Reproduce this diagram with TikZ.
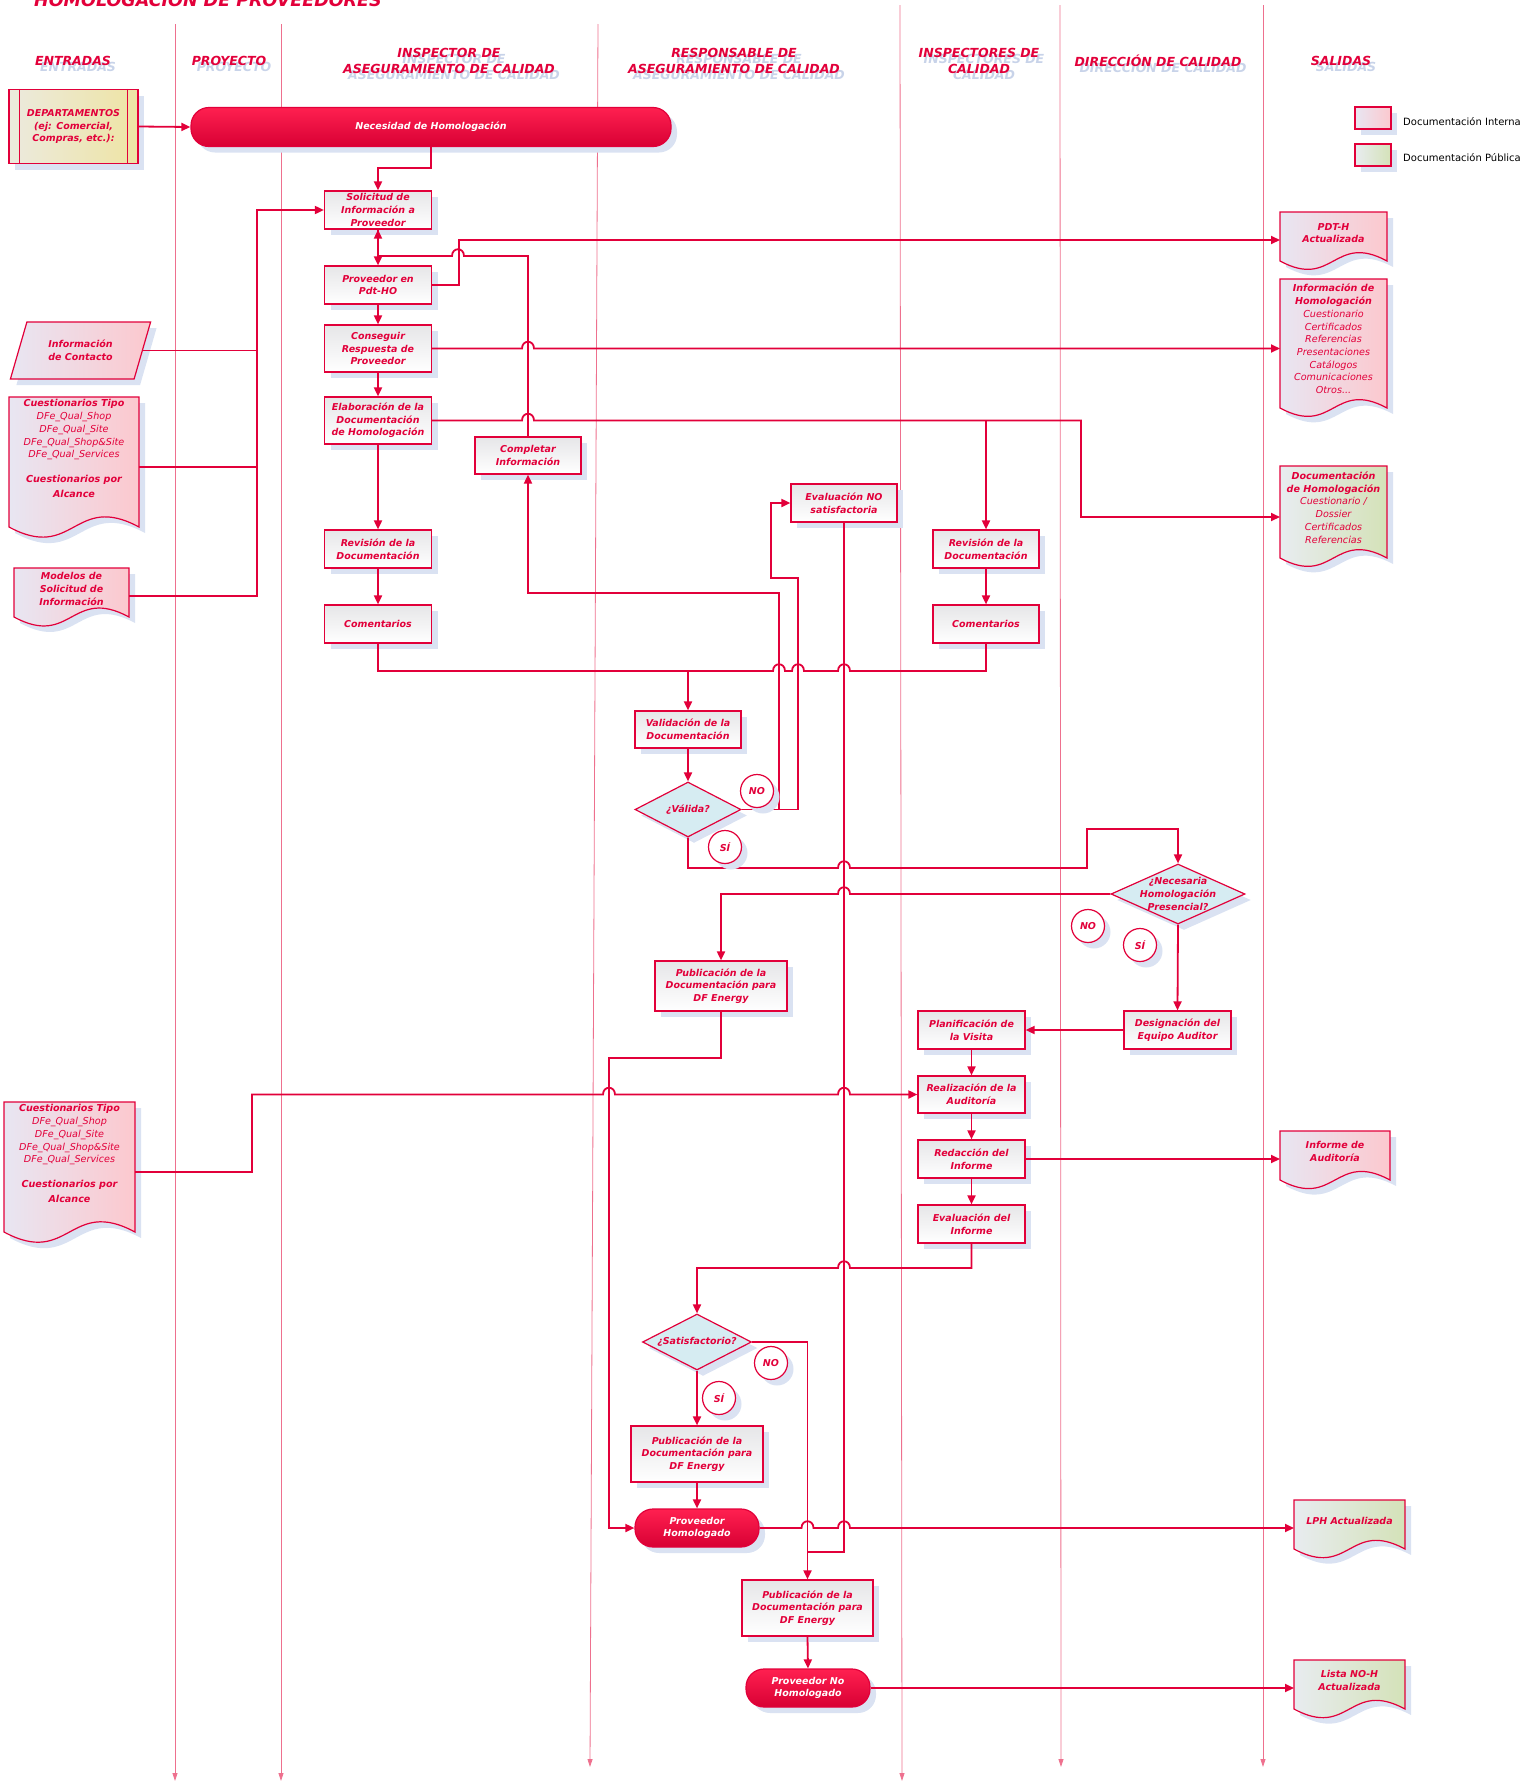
\documentclass[tikz,border=0pt]{standalone}
\usepackage{fontspec}
\setmainfont{DejaVu Sans}
\usetikzlibrary{arrows.meta,shapes.geometric,shadows,calc}

% colours
\definecolor{crimson}{RGB}{226,0,58}
\definecolor{lanepink}{RGB}{238,112,142}
\definecolor{shadowblue}{RGB}{218,226,242}
\definecolor{headshadow}{RGB}{200,211,233}
\definecolor{docpinkL}{RGB}{232,230,242}
\definecolor{docpinkR}{RGB}{252,200,206}
\definecolor{docgreenL}{RGB}{232,236,240}
\definecolor{docgreenR}{RGB}{212,226,184}
\definecolor{deptL}{RGB}{236,234,222}
\definecolor{deptR}{RGB}{238,228,164}
\definecolor{diafill}{RGB}{214,236,242}
\definecolor{pillT}{RGB}{255,32,80}
\definecolor{pillB}{RGB}{216,0,52}
\definecolor{boxgray}{RGB}{230,230,232}

\newcommand{\boxfont}{\fontsize{9.5}{12.6}\selectfont\bfseries\itshape}
\newcommand{\docfont}{\fontsize{9.6}{12.7}\selectfont\itshape}
\newcommand{\headfont}{\fontsize{12.5}{16}\selectfont\bfseries\itshape}

% hop over a vertical line, going right / going left
\newcommand{\hopr}[2]{-- ({#1-6},#2) .. controls +(0,-9) and +(0,-9) .. ({#1+6},#2)}
\newcommand{\hopl}[2]{-- ({#1+6},#2) .. controls +(0,-9) and +(0,-9) .. ({#1-6},#2)}

% document shape with wavy bottom round an empty node
\newcommand{\docu}[3]{%
  \fill[shadowblue] let \p1=([shift={(6,6)}]#1.north west), \p2=([shift={(6,6)}]#1.south east) in
    (\x1,\y1) -- (\x2,\y1) -- (\x2,\y2)
    .. controls ({0.5*\x1+0.5*\x2},{\y2+0.27*(\x2-\x1)}) and ({0.5*\x1+0.5*\x2},{\y2-0.27*(\x2-\x1)}) .. (\x1,\y2) -- cycle;
  \path[draw=crimson, line width=1.2pt, left color=#2, right color=#3] let \p1=(#1.north west), \p2=(#1.south east) in
    (\x1,\y1) -- (\x2,\y1) -- (\x2,\y2)
    .. controls ({0.5*\x1+0.5*\x2},{\y2+0.27*(\x2-\x1)}) and ({0.5*\x1+0.5*\x2},{\y2-0.27*(\x2-\x1)}) .. (\x1,\y2) -- cycle;
}

\tikzset{
  lane/.style={draw=lanepink, line width=0.8pt, -{Triangle[length=8pt,width=5pt]}},
  lanehead/.style={font=\headfont, text=crimson, align=center, inner sep=0pt},
  headshade/.style={font=\headfont, text=headshadow, align=center, inner sep=0pt},
  shade6/.style={drop shadow={shadow xshift=6pt, shadow yshift=-6pt, fill=shadowblue, opacity=1}},
  proc/.style={shade6, draw=crimson, line width=1.2pt, top color=boxgray, bottom color=white,
    minimum width=107, minimum height=38, inner sep=0pt, align=center, font=\boxfont, text=crimson},
  pill/.style={shade6, draw=crimson, line width=1.2pt, rounded corners=18pt, top color=pillT, bottom color=pillB,
    minimum width=124, minimum height=38, inner sep=0pt, align=center, font=\boxfont, text=white},
  decision/.style={shade6, diamond, aspect=2, draw=crimson, line width=1.2pt, fill=diafill,
    inner sep=0pt, align=center, font=\boxfont, text=crimson},
  answer/.style={shade6, circle, draw=crimson, line width=1.2pt, fill=white, minimum size=33,
    inner sep=0pt, font=\boxfont, text=crimson},
  docbox/.style={inner sep=0pt, outer sep=0pt},
  doctext/.style={font=\docfont, text=crimson, align=center, inner sep=0pt},
  boxtext/.style={font=\boxfont, text=crimson, align=center, inner sep=0pt},
  flow/.style={draw=crimson, line width=1.8pt, -{Triangle[length=9pt,width=8pt]}},
  link/.style={draw=crimson, line width=1.8pt},
}

\begin{document}
\begin{tikzpicture}[x=1pt, y=-1pt]
\useasboundingbox (0,0) rectangle (1525,1783);

% Title
\node[font=\fontsize{17.5}{20}\selectfont\bfseries\itshape, text=crimson, anchor=base west, inner sep=0pt] (title) at (34,6) {HOMOLOGACIÓN DE PROVEEDORES};

% Lane lines
\draw[lane] (175,24) -- (175,1781);
\draw[lane] (281,24) -- (281,1781);
\draw[lane] (598,24) -- (590,1767);
\draw[lane] (900,5) -- (902,1781);
\draw[lane] (1060,5) -- (1061,1767);
\draw[lane] (1263,5) -- (1263,1767);

% Lane headers
\node[headshade] at (78,67) {ENTRADAS};
\node[lanehead] (hentr) at (73,61) {ENTRADAS};
\node[headshade] at (234,67) {PROYECTO};
\node[lanehead] (hproy) at (229,61) {PROYECTO};
\node[headshade] at (454,67) {INSPECTOR DE\\ASEGURAMIENTO DE CALIDAD};
\node[lanehead] (hinsp) at (449,61) {INSPECTOR DE\\ASEGURAMIENTO DE CALIDAD};
\node[headshade] at (739,67) {RESPONSABLE DE\\ASEGURAMIENTO DE CALIDAD};
\node[lanehead] (hresp) at (734,61) {RESPONSABLE DE\\ASEGURAMIENTO DE CALIDAD};
\node[headshade] at (984,67) {INSPECTORES DE\\CALIDAD};
\node[lanehead] (hinsc) at (979,61) {INSPECTORES DE\\CALIDAD};
\node[headshade] at (1163,67) {DIRECCIÓN DE CALIDAD};
\node[lanehead] (hdire) at (1158,61) {DIRECCIÓN DE CALIDAD};
\node[headshade] at (1346,67) {SALIDAS};
\node[lanehead] (hsali) at (1341,61) {SALIDAS};

% Legend
\node[shade6, draw=crimson, line width=1.2pt, left color=docpinkL, right color=docpinkR, minimum width=36, minimum height=22, inner sep=0pt] (leg1) at (1373,118) {};
\node[font=\fontsize{10}{12}\selectfont, anchor=west, inner sep=0pt] (leg1t) at (1403,122) {Documentación Interna};
\node[shade6, draw=crimson, line width=1.2pt, left color=docgreenL, right color=docgreenR, minimum width=36, minimum height=22, inner sep=0pt] (leg2) at (1373,155) {};
\node[font=\fontsize{10}{12}\selectfont, anchor=west, inner sep=0pt] (leg2t) at (1403,158) {Documentación Pública};

% Entradas
\node[shade6, draw=crimson, line width=1.2pt, left color=deptL, right color=deptR, minimum width=129, minimum height=74, inner sep=0pt, align=center, font=\boxfont, text=crimson] (dept) at (73.5,126.5) {DEPARTAMENTOS\\(ej: Comercial,\\Compras, etc.):};
\draw[crimson, line width=1.2pt] ([xshift=11pt]dept.north west) -- ([xshift=11pt]dept.south west);
\draw[crimson, line width=1.2pt] ([xshift=-11pt]dept.north east) -- ([xshift=-11pt]dept.south east);

\node[shade6, trapezium, trapezium left angle=64, trapezium right angle=116, trapezium stretches=true, draw=crimson, line width=1.2pt, left color=docpinkL, right color=docpinkR, minimum width=141, minimum height=57, inner sep=0pt, align=center, font=\boxfont, text=crimson] (contacto) at (80.5,350.5) {Información\\de Contacto};

\node[docbox, minimum width=130, minimum height=130] (cuest1) at (74,462) {};
\docu{cuest1}{docpinkL}{docpinkR}
\node[doctext] (cuest1t) at (74,448.5) {\textbf{Cuestionarios Tipo}\\DFe\_Qual\_Shop\\DFe\_Qual\_Site\\DFe\_Qual\_Shop\&Site\\DFe\_Qual\_Services\\[12pt]\textbf{Cuestionarios por}\\[2pt]\textbf{Alcance}};

\node[docbox, minimum width=115, minimum height=49] (modelos) at (71.5,592.5) {};
\docu{modelos}{docpinkL}{docpinkR}
\node[boxtext] (modelost) at (71.5,589) {Modelos de\\Solicitud de\\Información};

\node[docbox, minimum width=131, minimum height=130] (cuest2) at (69.5,1167) {};
\docu{cuest2}{docpinkL}{docpinkR}
\node[doctext] (cuest2t) at (69.5,1153.5) {\textbf{Cuestionarios Tipo}\\DFe\_Qual\_Shop\\DFe\_Qual\_Site\\DFe\_Qual\_Shop\&Site\\DFe\_Qual\_Services\\[12pt]\textbf{Cuestionarios por}\\[2pt]\textbf{Alcance}};

% Salidas
\node[docbox, minimum width=107, minimum height=49] (pdth) at (1333.5,236.5) {};
\docu{pdth}{docpinkL}{docpinkR}
\node[boxtext] (pdtht) at (1333.5,233) {PDT-H\\Actualizada};

\node[docbox, minimum width=107, minimum height=129] (infoh) at (1333.5,343.5) {};
\docu{infoh}{docpinkL}{docpinkR}
\node[doctext] (infoht) at (1333.5,339) {\textbf{Información de}\\\textbf{Homologación}\\Cuestionario\\Certificados\\Referencias\\Presentaciones\\Catálogos\\Comunicaciones\\Otros...};

\node[docbox, minimum width=107, minimum height=92] (doch) at (1333.5,512) {};
\docu{doch}{docgreenL}{docgreenR}
\node[doctext] (docht) at (1333.5,507.5) {\textbf{Documentación}\\\textbf{de Homologación}\\Cuestionario /\\Dossier\\Certificados\\Referencias};

\node[docbox, minimum width=110, minimum height=49] (infaud) at (1335,1155.5) {};
\docu{infaud}{docpinkL}{docpinkR}
\node[boxtext] (infaudt) at (1335,1151.5) {Informe de\\Auditoría};

\node[docbox, minimum width=111, minimum height=49] (lph) at (1349.5,1524.5) {};
\docu{lph}{docgreenL}{docgreenR}
\node[boxtext] (lpht) at (1349.5,1521) {LPH Actualizada};

\node[docbox, minimum width=111, minimum height=49] (noh) at (1349.5,1684.5) {};
\docu{noh}{docgreenL}{docgreenR}
\node[boxtext] (noht) at (1349.5,1680.5) {Lista NO-H\\Actualizada};

% Process
\node[pill, minimum width=480, minimum height=39] (nec) at (431,127) {Necesidad de Homologación};
\node[proc] (soli) at (378,210) {Solicitud de\\Información a\\Proveedor};
\node[proc] (pdt) at (378,285) {Proveedor en\\Pdt-HO};
\node[proc, minimum height=47] (cons) at (378,348.5) {Conseguir\\Respuesta de\\Proveedor};
\node[proc, minimum height=47] (elab) at (378,420.5) {Elaboración de la\\Documentación\\de Homologación};
\node[proc, minimum width=106, minimum height=37] (comp) at (528,455.5) {Completar\\Información};
\node[proc] (rev1) at (378,549) {Revisión de la\\Documentación};
\node[proc] (com1) at (378,624) {Comentarios};
\node[proc, minimum width=106] (evno) at (844,503) {Evaluación NO\\satisfactoria};
\node[proc, minimum width=106] (rev2) at (986,549) {Revisión de la\\Documentación};
\node[proc, minimum width=106] (com2) at (986,624) {Comentarios};
\node[proc, minimum width=106, minimum height=37] (vali) at (688,729.5) {Validación de la\\Documentación};
\node[decision, minimum width=106, minimum height=55] (valid) at (688,809.5) {¿Válida?};
\node[decision, minimum width=134, minimum height=60] (nece) at (1178,894) {};
\node[boxtext] (necet) at (1178,894) {¿Necesaria\\Homologación\\Presencial?};
\node[proc, minimum width=132, minimum height=50] (pub1) at (721,986) {Publicación de la\\Documentación para\\DF Energy};
\node[proc] (desi) at (1177.5,1030) {Designación del\\Equipo Auditor};
\node[proc] (plan) at (971.5,1030) {Planificación de\\la Visita};
\node[proc, minimum height=37] (real) at (971.5,1094.5) {Realización de la\\Auditoría};
\node[proc] (reda) at (971.5,1159) {Redacción del\\Informe};
\node[proc] (evin) at (971.5,1224) {Evaluación del\\Informe};
\node[decision, minimum width=109, minimum height=56] (sati) at (697,1342) {¿Satisfactorio?};
\node[proc, minimum width=132, minimum height=56] (pub2) at (697,1454) {Publicación de la\\Documentación para\\DF Energy};
\node[pill] (homo) at (697,1528) {Proveedor\\Homologado};
\node[proc, minimum width=131, minimum height=56] (pub3) at (807.5,1608) {Publicación de la\\Documentación para\\DF Energy};
\node[pill] (nohomo) at (808,1688) {Proveedor No\\Homologado};

% Connectors
\draw[flow] (dept.east) -- (nec.west);
\draw[flow] (nec.south) -- ++(0,21) -| (soli.north);
\coordinate (bus) at (257,210);
\draw[link] (contacto.east) -- (contacto.east -| bus);
\draw[link] ([shift={(0,5)}]cuest1.east) -- ([shift={(0,5)}]cuest1.east -| bus);
\draw[flow] ([shift={(0,3.5)}]modelos.east) -| (bus) -- (soli.west);
\draw[flow] (soli.south) -- (pdt.north);
\draw[flow] (comp.north) -- (528,256) \hopl{458}{256} -- (378,256) -- (soli.south);
\draw[flow] (pdt.east) -- ++(27,0) |- ([shift={(0,3.5)}]pdth.west);
\draw[flow] (pdt.south) -- (cons.north);
\draw[flow] (cons.east) \hopr{528}{348.5} -- (cons.east -| infoh.west);
\draw[flow] (cons.south) -- (elab.north);
\draw[flow] (elab.east) \hopr{528}{420.5} -- (1081,420.5) |- ([shift={(0,5)}]doch.west);
\draw[flow] (rev2.north |- elab.east) -- (rev2.north);
\draw[flow] (elab.south) -- (rev1.north);
\draw[flow] (rev1.south) -- (com1.north);
\draw[flow] (rev2.south) -- (com2.north);
\draw[link] (com1.south) -- (378,671) \hopr{779}{671} \hopr{798}{671} \hopr{844}{671} -- (986,671) -- (com2.south);
\draw[flow] (vali.north |- 0,671) -- (vali.north);
\draw[flow] (vali.south) -- (valid.north);
\draw[flow] (valid.east) -- (779,809.5) -- (779,593) -| (comp.south);
\draw[flow] (valid.east) -- (798,809.5) -- (798,578) -- (771,578) |- (evno.west);
\draw[link] (evno.south) -- (844,1552) -- (807.5,1552);
\draw[flow] (valid.south) -- (688,868) \hopr{844}{868} -- (1087,868) -- (1087,829) -| (nece.north);
\draw[flow] (nece.west) \hopl{844}{894} -| (pub1.north);
\draw[flow] (nece.south) -- (desi.north);
\draw[flow] (desi.west) -- (plan.east);
\draw[flow] (plan.south) -- (real.north);
\draw[flow] (real.south) -- (reda.north);
\draw[flow] (reda.south) -- (evin.north);
\draw[flow] (reda.east) -- (reda.east -| infaud.west);
\draw[flow] ([shift={(0,5)}]cuest2.east) -- (252,1172) -- (252,1094.5) \hopr{609}{1094.5} \hopr{844}{1094.5} -- (real.west);
\draw[flow] (pub1.south) -- (721,1058) -- (609,1058) |- (homo.west);
\draw[flow] (evin.south) -- (971.5,1268) \hopl{844}{1268} -| (sati.north);
\draw[flow] (sati.east) -| (pub3.north);
\draw[flow] (sati.south) -- (pub2.north);
\draw[flow] (pub2.south) -- (homo.north);
\draw[flow] (homo.east) \hopr{807.5}{1528} \hopr{844}{1528} -- (homo.east -| lph.west);
\draw[flow] (pub3.south) -- (nohomo.north);
\draw[flow] (nohomo.east) -- (nohomo.east -| noh.west);

% Answers
\node[answer] (no1) at (757,791) {NO};
\node[answer] (si1) at (725,847) {SÍ};
\node[answer] (no2) at (1088,926) {NO};
\node[answer] (si2) at (1140,945) {SÍ};
\node[answer] (no3) at (771,1363) {NO};
\node[answer] (si3) at (719,1398) {SÍ};

\end{tikzpicture}
\end{document}
